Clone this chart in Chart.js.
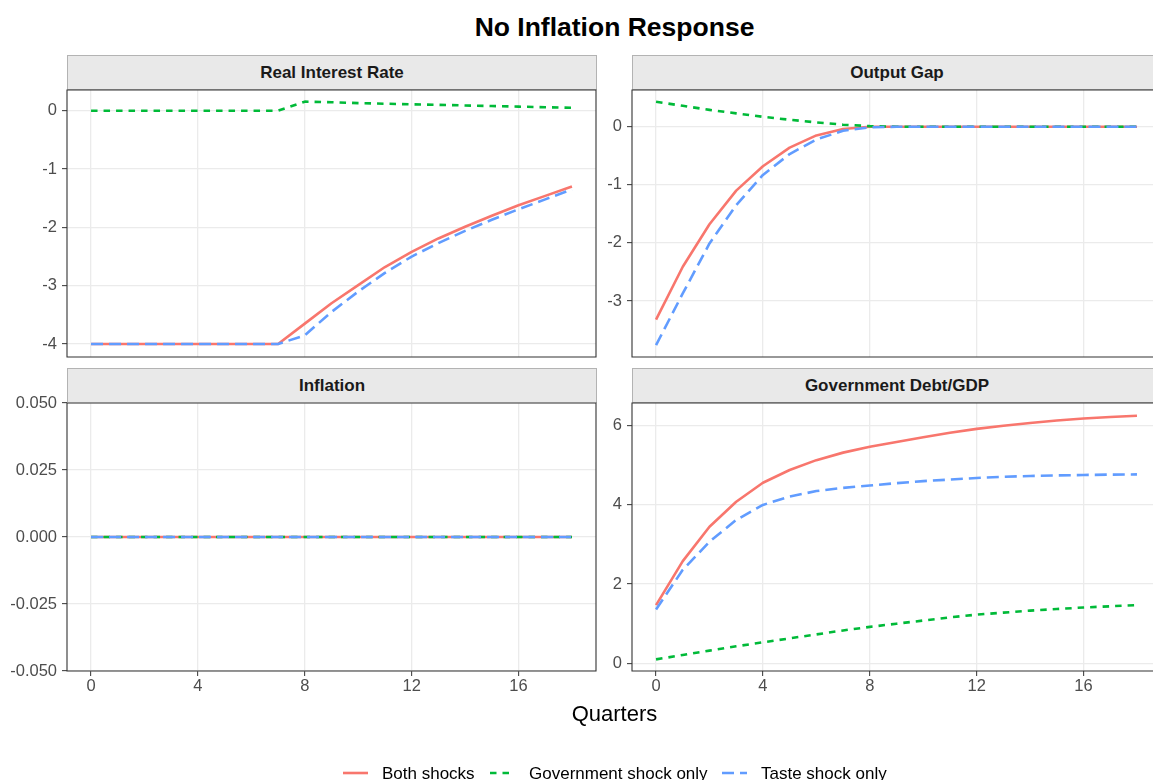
<!DOCTYPE html>
<html><head><meta charset="utf-8">
<script src="https://cdn.jsdelivr.net/npm/chart.js@4.4.1/dist/chart.umd.min.js"></script>
<style>
html,body{margin:0;padding:0;background:#fff;overflow:hidden;}
#wrap{position:relative;width:1153px;height:780px;overflow:hidden;font-family:"Liberation Sans",Arial,Helvetica,sans-serif;background:#fff;}
canvas{position:absolute;}
.strip{position:absolute;background:#e9e9e9;border:1px solid #b3b3b3;box-sizing:border-box;font-weight:bold;font-size:17px;color:#1a1a1a;display:flex;align-items:center;justify-content:center;white-space:nowrap;}
.txt{position:absolute;white-space:nowrap;line-height:1;}
</style></head><body><div id="wrap">
<div class="txt" id="title" style="left:0;width:1229px;text-align:center;top:14px;font-size:26.5px;font-weight:bold;color:#000;">No Inflation Response</div>
<div class="strip" style="left:67px;top:55px;width:530px;height:35px;">Real Interest Rate</div>
<div class="strip" style="left:632px;top:55px;width:530px;height:35px;">Output Gap</div>
<div class="strip" style="left:67px;top:368px;width:530px;height:35px;">Inflation</div>
<div class="strip" style="left:632px;top:368px;width:530px;height:35px;">Government Debt/GDP</div>
<canvas id="c1"></canvas><canvas id="c2"></canvas><canvas id="c3"></canvas><canvas id="c4"></canvas>
<div class="txt" style="left:0;width:1229px;text-align:center;top:703px;font-size:22px;color:#000;">Quarters</div>
<div id="legend"></div>
</div>
<script>
// ---- data ----
const quarters = [0,1,2,3,4,5,6,7,8,9,10,11,12,13,14,15,16,17,18];
const seriesNames = ["Both shocks","Government shock only","Taste shock only"];

const rateBoth  = [-4,-4,-4,-4,-4,-4,-4,-4,-3.65,-3.30,-2.99,-2.68,-2.42,-2.19,-1.99,-1.80,-1.62,-1.46,-1.30];
const rateGov   = [0,0,0,0,0,0,0,0,0.155,0.145,0.13,0.12,0.11,0.10,0.09,0.08,0.07,0.06,0.05];
const rateTaste = [-4,-4,-4,-4,-4,-4,-4,-4,-3.85,-3.45,-3.10,-2.78,-2.50,-2.27,-2.06,-1.87,-1.69,-1.52,-1.35];

const gapBoth  = [-3.32,-2.41,-1.68,-1.10,-0.68,-0.36,-0.15,-0.04,0,0,0,0,0,0,0,0,0,0,0];
const gapGov   = [0.43,0.36,0.29,0.23,0.17,0.12,0.075,0.035,0.01,0,0,0,0,0,0,0,0,0,0];
const gapTaste = [-3.76,-2.87,-2.01,-1.35,-0.83,-0.47,-0.22,-0.07,-0.01,0,0,0,0,0,0,0,0,0,0];

const inflBoth  = [0,0,0,0,0,0,0,0,0,0,0,0,0,0,0,0,0,0,0];
const inflGov   = [0,0,0,0,0,0,0,0,0,0,0,0,0,0,0,0,0,0,0];
const inflTaste = [0,0,0,0,0,0,0,0,0,0,0,0,0,0,0,0,0,0,0];

const debtBoth  = [1.47,2.58,3.45,4.08,4.56,4.88,5.13,5.32,5.47,5.59,5.71,5.82,5.92,6.00,6.07,6.13,6.18,6.22,6.25];
const debtGov   = [0.10,0.21,0.32,0.43,0.53,0.63,0.73,0.83,0.92,1.00,1.08,1.16,1.23,1.28,1.33,1.37,1.41,1.44,1.47];
const debtTaste = [1.36,2.36,3.07,3.62,4.00,4.21,4.35,4.43,4.49,4.55,4.60,4.64,4.68,4.71,4.73,4.745,4.755,4.765,4.77];

// ---- tick labels ----
const xTicks = [0,4,8,12,16];
const xTickLabels = ["0","4","8","12","16"];
const rateTicks = [0,-1,-2,-3,-4];
const rateTickLabels = ["0","-1","-2","-3","-4"];
const gapTicks = [0,-1,-2,-3];
const gapTickLabels = ["0","-1","-2","-3"];
const inflTicks = [0.05,0.025,0,-0.025,-0.05];
const inflTickLabels = ["0.050","0.025","0.000","-0.025","-0.050"];
const debtTicks = [0,2,4,6];
const debtTickLabels = ["0","2","4","6"];

// ---- styles ----
const colors = ["#F8766D","#00BA38","#619CFF"];
const dashes = [[],[6.5,6],[12,6]];
const LW = 2.6;
const FONT = '"Liberation Sans", Arial, Helvetica, sans-serif';

const panelBorder = {
  id:'panelBorder',
  afterDraw(chart, args, opts){
    const a = chart.chartArea, ctx = chart.ctx;
    ctx.save();
    ctx.strokeStyle = '#333333'; ctx.lineWidth = 1.1;
    ctx.beginPath();
    if (opts.right) {
      ctx.rect(a.left, a.top, a.right - a.left, a.bottom - a.top);
    } else {
      ctx.moveTo(a.right + 5, a.top); ctx.lineTo(a.left, a.top);
      ctx.lineTo(a.left, a.bottom); ctx.lineTo(a.right + 5, a.bottom);
    }
    ctx.stroke();
    ctx.restore();
  }
};
Chart.register(panelBorder);

function makeDatasets(vals){
  return vals.map((v,i)=>({
    label: seriesNames[i],
    data: quarters.map((q,k)=>({x:q, y:v[k]})),
    borderColor: colors[i], borderWidth: LW, borderDash: dashes[i],
    borderCapStyle:'butt', borderJoinStyle:'round',
    pointRadius:0, tension:0, fill:false,
    order: 3 - i
  }));
}

function panel(id, cfg){
  const cv = document.getElementById(id);
  const padT = 18, padL = 0, padR = cfg.padR;
  const padB = cfg.xAxisH > 0 ? 2 : 18;
  const W = padL + cfg.yAxisW + cfg.areaW + padR;
  const H = padT + cfg.areaH + cfg.xAxisH + padB;
  cv.style.left = (cfg.areaLeft - cfg.yAxisW - padL) + 'px';
  cv.style.top = (cfg.areaTop - padT) + 'px';
  cv.width = W; cv.height = H;
  cv.style.width = W + 'px'; cv.style.height = H + 'px';
  const tickFont = {family: FONT, size: 16.5};
  new Chart(cv, {
    type:'line',
    data:{datasets: makeDatasets(cfg.vals)},
    options:{
      responsive:false, animation:false, devicePixelRatio:1,
      layout:{padding:{left:padL, top:padT, right:padR, bottom:padB}},
      plugins:{legend:{display:false}, tooltip:{enabled:false}, panelBorder:{right: cfg.borderRight}},
      scales:{
        x:{
          type:'linear', min:-0.9, max:cfg.xMax,
          afterBuildTicks: s => { s.ticks = xTicks.map(v=>({value:v})); },
          afterFit: s => { s.height = cfg.xAxisH; },
          grid:{color:'#ebebeb', lineWidth:1.3, drawTicks:cfg.showX, tickLength:5, tickColor:'#333333', tickWidth:1},
          border:{display:false},
          ticks:{display:cfg.showX, color:'#4d4d4d', font:tickFont, padding:1, maxRotation:0, autoSkip:false,
                 callback:(v,i)=>xTickLabels[i]}
        },
        y:{
          type:'linear', min:cfg.yMin, max:cfg.yMax,
          afterBuildTicks: s => { s.ticks = cfg.yTicks.map(v=>({value:v})); },
          afterFit: s => { s.width = cfg.yAxisW; },
          grid:{color:'#ebebeb', lineWidth:1.3, drawTicks:true, tickLength:5, tickColor:'#333333', tickWidth:1},
          border:{display:false},
          ticks:{color:'#4d4d4d', font:tickFont, padding:5, autoSkip:false,
                 callback:(v,i)=>cfg.yLabels[i]}
        }
      }
    }
  });
}

panel('c1', {vals:[rateBoth,rateGov,rateTaste], areaLeft:67, areaTop:90, areaW:529, areaH:267,
  yAxisW:67, xAxisH:0, padR:1, showX:false, xMax:18.9, borderRight:true,
  yMin:-4.222, yMax:0.355, yTicks:rateTicks, yLabels:rateTickLabels});
panel('c2', {vals:[gapBoth,gapGov,gapTaste], areaLeft:632, areaTop:90, areaW:521, areaH:267,
  yAxisW:34, xAxisH:0, padR:0, showX:false, xMax:18.6, borderRight:false,
  yMin:-3.964, yMax:0.632, yTicks:gapTicks, yLabels:gapTickLabels});
panel('c3', {vals:[inflBoth,inflGov,inflTaste], areaLeft:67, areaTop:403, areaW:529, areaH:268,
  yAxisW:67, xAxisH:30, padR:1, showX:true, xMax:18.9, borderRight:true,
  yMin:-0.05, yMax:0.05, yTicks:inflTicks, yLabels:inflTickLabels});
panel('c4', {vals:[debtBoth,debtGov,debtTaste], areaLeft:632, areaTop:403, areaW:521, areaH:268,
  yAxisW:34, xAxisH:30, padR:0, showX:true, xMax:18.6, borderRight:false,
  yMin:-0.194, yMax:6.573, yTicks:debtTicks, yLabels:debtTickLabels});

// ---- legend (HTML) ----
const legendKeys = [343, 490, 722];
const legendTexts = [382, 529, 761];
const leg = document.getElementById('legend');
const LEG_Y = 773;
let svg = '<svg style="position:absolute;left:0;top:0" width="1153" height="780">';
seriesNames.forEach((n,i)=>{
  svg += '<line x1="'+legendKeys[i]+'" y1="'+LEG_Y+'" x2="'+(legendKeys[i]+25)+'" y2="'+LEG_Y+'" stroke="'+colors[i]+'" stroke-width="'+LW+'"'+
         (dashes[i].length?' stroke-dasharray="'+dashes[i].join(',')+'"':'')+' />';
});
svg += '</svg>';
leg.innerHTML = svg;
seriesNames.forEach((n,i)=>{
  const d = document.createElement('div');
  d.className = 'txt';
  d.style.left = legendTexts[i] + 'px';
  d.style.top = (LEG_Y - 8.5) + 'px';
  d.style.fontSize = '17px';
  d.style.color = '#000';
  d.textContent = n;
  leg.appendChild(d);
});
</script>
</body></html>
